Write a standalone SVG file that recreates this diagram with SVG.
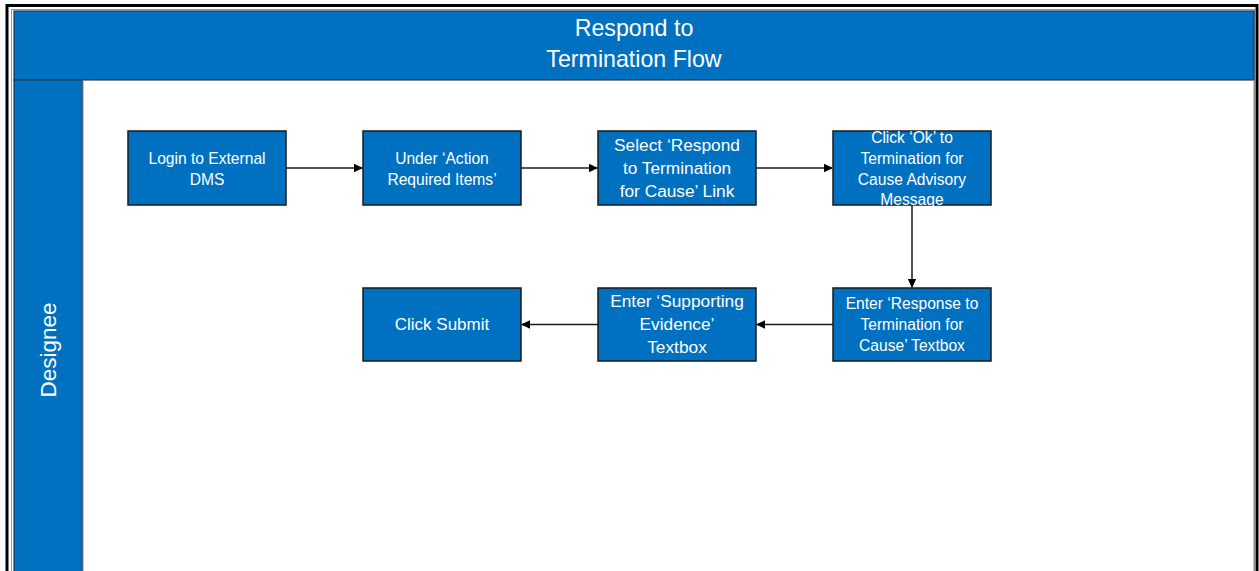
<svg xmlns="http://www.w3.org/2000/svg" width="1259" height="571" viewBox="0 0 1259 571">
  <style>
    .pool { fill: #0070c0; stroke: #1f3a55; stroke-width: 1.2; }
    .box { fill: #0070c0; stroke: #1a1a1a; stroke-width: 1.5; }
    .t { font-family: "Liberation Sans", Arial, sans-serif; fill: #ffffff; text-anchor: middle; }
    .s15 { font-size: 15.6px; }
    .s17 { font-size: 17.3px; }
    .edge { fill: none; stroke: #1a1a1a; stroke-width: 1.5; marker-end: url(#arrow); }
  </style>
  <defs>
    <marker id="arrow" markerWidth="10" markerHeight="10" refX="8" refY="5" orient="auto" markerUnits="userSpaceOnUse">
      <path d="M0,0.8 L9,5 L0,9.2 Z" fill="#000000"/>
    </marker>
  </defs>

  <!-- page background and frame -->
  <rect x="0" y="0" width="1259" height="571" fill="#ffffff"/>
  <rect x="7" y="5.5" width="1250" height="570" fill="none" stroke="#000000" stroke-width="3"/>
  <rect x="11.5" y="9.5" width="1243" height="565" fill="none" stroke="#9a9a9a" stroke-width="1"/>

  <!-- pool header -->
  <g id="pool-header">
    <rect class="pool" x="14" y="11" width="1240" height="69"/>
    <text class="t" x="634" y="36" font-size="23.2">Respond to</text>
    <text class="t" x="634" y="66.5" font-size="23.2">Termination Flow</text>
  </g>

  <!-- lane -->
  <g id="lane-designee">
    <rect class="pool" x="14" y="80" width="68.5" height="495"/>
    <rect x="83" y="80.5" width="1171" height="494" fill="#ffffff" stroke="#8a8a8a" stroke-width="1"/>
    <text class="t" font-size="22.5" transform="translate(56,350) rotate(-90)">Designee</text>
  </g>

  <!-- connectors -->
  <g id="connectors">
    <line class="edge" x1="286" y1="168" x2="362" y2="168"/>
    <line class="edge" x1="521" y1="168" x2="597" y2="168"/>
    <line class="edge" x1="756" y1="168" x2="832" y2="168"/>
    <line class="edge" x1="912" y1="205" x2="912" y2="287"/>
    <line class="edge" x1="833" y1="324.5" x2="757" y2="324.5"/>
    <line class="edge" x1="598" y1="324.5" x2="522" y2="324.5"/>
  </g>

  <g id="n1">
    <rect class="box" x="128" y="131" width="158" height="74"/>
    <text class="t s15" x="207" y="163.5">Login to External</text>
    <text class="t s15" x="207" y="184.5">DMS</text>
  </g>
  <g id="n2">
    <rect class="box" x="363" y="131" width="158" height="74"/>
    <text class="t s15" x="442" y="163.5">Under ‘Action</text>
    <text class="t s15" x="442" y="184.5">Required Items’</text>
  </g>
  <g id="n3">
    <rect class="box" x="598" y="131" width="158" height="74"/>
    <text class="t s17" x="677" y="151">Select ‘Respond</text>
    <text class="t s17" x="677" y="174">to Termination</text>
    <text class="t s17" x="677" y="197">for Cause’ Link</text>
  </g>
  <g id="n4">
    <rect class="box" x="833" y="131" width="158" height="74"/>
    <text class="t s15" x="912" y="143">Click ‘Ok’ to</text>
    <text class="t s15" x="912" y="164">Termination for</text>
    <text class="t s15" x="912" y="185">Cause Advisory</text>
    <text class="t s15" x="912" y="205">Message</text>
  </g>
  <g id="n5">
    <rect class="box" x="363" y="288" width="158" height="73"/>
    <text class="t" font-size="17" x="442" y="330">Click Submit</text>
  </g>
  <g id="n6">
    <rect class="box" x="598" y="288" width="158" height="73"/>
    <text class="t s17" x="677" y="307">Enter ‘Supporting</text>
    <text class="t s17" x="677" y="330">Evidence’</text>
    <text class="t s17" x="677" y="353">Textbox</text>
  </g>
  <g id="n7">
    <rect class="box" x="833" y="288" width="158" height="73"/>
    <text class="t s15" x="912" y="309">Enter ‘Response to</text>
    <text class="t s15" x="912" y="330">Termination for</text>
    <text class="t s15" x="912" y="351">Cause’ Textbox</text>
  </g>
</svg>
